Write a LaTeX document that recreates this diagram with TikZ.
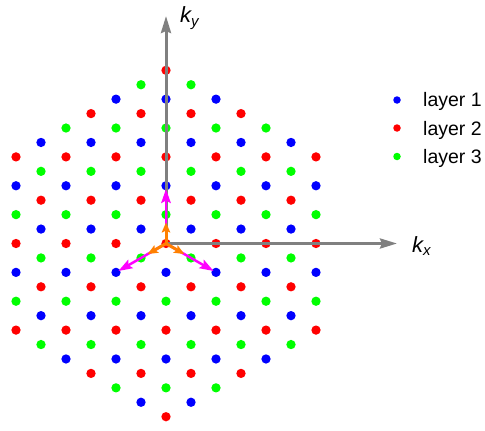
\documentclass[tikz,border=0pt]{standalone}
\usepackage{fontspec}
\setmainfont{Liberation Sans}
\usetikzlibrary{arrows.meta}
\definecolor{lred}{RGB}{255,0,0}
\definecolor{lblue}{RGB}{0,0,255}
\definecolor{lgreen}{RGB}{0,255,0}
\definecolor{axgray}{RGB}{128,128,128}
\definecolor{vorange}{RGB}{255,128,0}
\definecolor{vmag}{RGB}{255,0,255}
\begin{document}
\begin{tikzpicture}[x=1pt,y=-1pt,
  dot/.style={circle,inner sep=0pt,minimum size=9.3pt,fill=#1},
  legdot/.style={circle,inner sep=0pt,minimum size=7.5pt,fill=#1},
  legtext/.style={anchor=base west,inner sep=0pt,font=\fontsize{19.5}{21}\selectfont},
  axislabel/.style={anchor=base west,inner sep=0pt,font=\fontsize{22}{24}\selectfont\itshape},
  axisline/.style={draw=axgray,line width=3pt,line join=miter,
    {Stealth[length=17pt,width=10pt,inset=2pt]}-{Stealth[length=17pt,width=10pt,inset=2pt]}},
  magvec/.style={draw=vmag,line width=2.5pt,-{Stealth[length=14pt,width=9.5pt,inset=2.5pt]}},
  orvec/.style={draw=vorange,line width=3pt,-{Stealth[length=10pt,width=8.5pt,inset=2pt]}}
]
\useasboundingbox (0,0) rectangle (485,431);
% lattice
\foreach \r in {-12,...,12}{
  \foreach \k in {-6,...,6}{
    \pgfmathtruncatemacro{\ok}{((abs(\k)+abs(\r))<=12) && (mod(abs((\k)+(\r)),2)==0)}
    \pgfmathtruncatemacro{\ci}{mod((\r)+12,3)}
    \ifnum\ok=1
      \ifcase\ci \def\col{lred}\or\def\col{lblue}\or\def\col{lgreen}\fi
      \node[dot=\col] (p\k x\r) at ({166+25*\k},{243.5-14.434*\r}) {};
    \fi
  }
}
% axes
\coordinate (O) at (166,243.5);
\coordinate (yend) at (166,16);
\coordinate (xend) at (397,243.5);
\draw[axisline] (yend) -- (O) -- (xend);
\node[axislabel] (ky) at (180,23) {k\raisebox{-3pt}{\fontsize{15}{16}\selectfont y}};
\node[axislabel] (kx) at (412,252) {k\raisebox{-3pt}{\fontsize{15}{16}\selectfont x}};
% vectors
\coordinate (m1) at (166,189);
\coordinate (m2) at (118.4,271);
\coordinate (m3) at (213.6,271);
\draw[magvec] (O) -- (m1);
\draw[magvec] (O) -- (m2);
\draw[magvec] (O) -- (m3);
\coordinate (o1) at (166,222.5);
\coordinate (o2) at (147.8,254);
\coordinate (o3) at (184.2,254);
\draw[orvec] (O) -- (o1);
\draw[orvec] (O) -- (o2);
\draw[orvec] (O) -- (o3);
% legend
\node[legdot=lblue] (l1) at (397,100) {};
\node[legdot=lred] (l2) at (397,128) {};
\node[legdot=lgreen] (l3) at (397,156.5) {};
\node[legtext] (t1) at (423,106.5) {layer 1};
\node[legtext] (t2) at (423,135) {layer 2};
\node[legtext] (t3) at (423,163.5) {layer 3};
\end{tikzpicture}
\end{document}
